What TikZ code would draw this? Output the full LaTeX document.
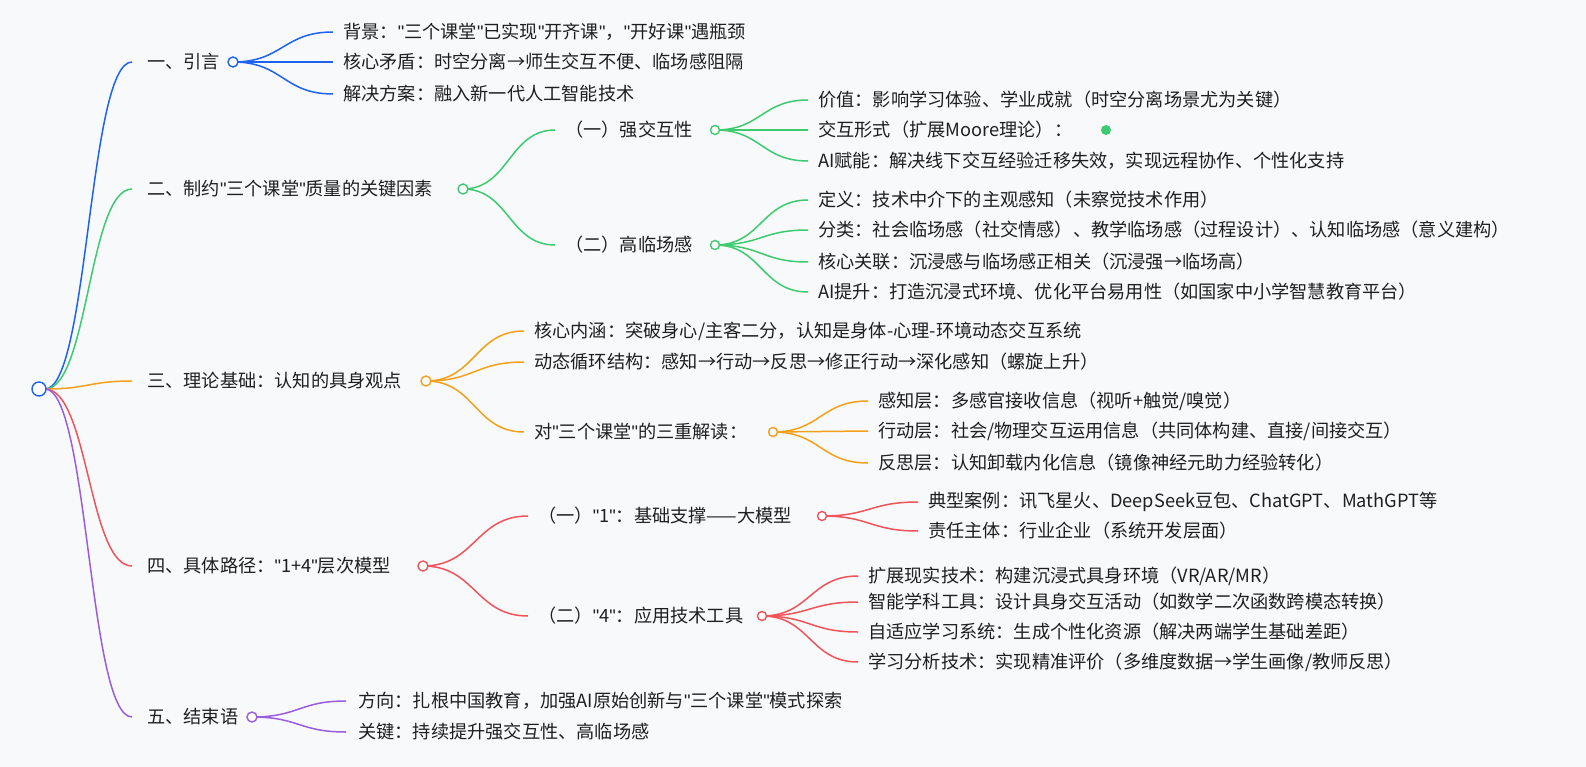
\documentclass[tikz,border=0pt]{standalone}
\usepackage{fontspec}
\setmainfont{Noto Sans CJK SC}
\newfontfamily\latinq{Liberation Sans}
\newcommand{\qq}{{\latinq"}}
\usetikzlibrary{calc}
\definecolor{cb}{HTML}{1E63F0}
\definecolor{cg}{HTML}{3CCB6E}
\definecolor{co}{HTML}{F5A01A}
\definecolor{cr}{HTML}{F0545A}
\definecolor{cp}{HTML}{9B5DE0}
\definecolor{bg}{HTML}{F8F9FB}
\definecolor{tx}{HTML}{1F1F1F}
\tikzset{
  dot/.style={circle,draw=#1,line width=1.4pt,fill=white,inner sep=0pt,minimum size=10pt},
  lbl/.style={anchor=west,inner sep=0pt,text=tx,font=\fontsize{18.2}{20}\selectfont},
  br/.style={draw=#1,line width=1.5pt},
}
\newcommand{\curve}[3]{\draw[br=#3] let \p1=(#1), \p2=(#2) in (\p1) .. controls ({(\x1+\x2)/2},\y1) and ({(\x1+\x2)/2},\y2) .. (\p2);}
\begin{document}
\begin{tikzpicture}[x=1pt,y=-1pt]
\fill[bg] (0,0) rectangle (1586,767);
\useasboundingbox (0,0) rectangle (1586,767);
% level 1
\coordinate (r) at (45,389);
\coordinate (e1) at (132,62);
\coordinate (e2) at (132,189);
\coordinate (e3) at (132,381);
\coordinate (e4) at (132,566);
\coordinate (e5) at (132,717);
\curve{r}{e1}{cb}\curve{r}{e2}{cg}\curve{r}{e3}{co}\curve{r}{e4}{cr}\curve{r}{e5}{cp}
\node[lbl] (t1) at (147,62) {一、引言};
\node[lbl] (t2) at (147,189) {二、制约\qq 三个课堂\qq 质量的关键因素};
\node[lbl] (t3) at (147,381) {三、理论基础：认知的具身观点};
\node[lbl] (t4) at (147,566) {四、具体路径：\qq 1+4\qq 层次模型};
\node[lbl] (t5) at (147,717) {五、结束语};
% branch 1
\coordinate (a1) at (333,32);\coordinate (a2) at (333,62);\coordinate (a3) at (333,94);
\curve{233,62}{a1}{cb}\curve{233,62}{a2}{cb}\curve{233,62}{a3}{cb}
\node[dot=cb] (d1) at (233,62) {};
\node[lbl] at (343,32) {背景：\qq 三个课堂\qq 已实现\qq 开齐课\qq ，\qq 开好课\qq 遇瓶颈};
\node[lbl] at (343,62) {核心矛盾：时空分离→师生交互不便、临场感阻隔};
\node[lbl] at (343,94) {解决方案：融入新一代人工智能技术};
% branch 2
\coordinate (b1) at (555,130);\coordinate (b2) at (555,245);
\curve{463,189}{b1}{cg}\curve{463,189}{b2}{cg}
\node[dot=cg] (d2) at (463,189) {};
\node[lbl] at (565,130) {（一）强交互性};
\node[lbl] at (565,245) {（二）高临场感};
\foreach \yy in {100,130,161} {\curve{715,130}{808,\yy}{cg}}
\foreach \yy in {200,230,262,292} {\curve{715,245}{808,\yy}{cg}}
\node[dot=cg,minimum size=9pt] (d21) at (715,130) {};
\node[dot=cg,minimum size=9pt] (d22) at (715,245) {};
\node[lbl] at (818,100) {价值：影响学习体验、学业成就（时空分离场景尤为关键）};
\node[lbl] (m) at (818,130) {交互形式（扩展Moore理论）：};
\fill[cg] (1106,130) circle (5);
\node[lbl] at (818,161) {AI赋能：解决线下交互经验迁移失效，实现远程协作、个性化支持};
\node[lbl] at (818,200) {定义：技术中介下的主观感知（未察觉技术作用）};
\node[lbl] at (818,230) {分类：社会临场感（社交情感）、教学临场感（过程设计）、认知临场感（意义建构）};
\node[lbl] at (818,262) {核心关联：沉浸感与临场感正相关（沉浸强→临场高）};
\node[lbl] at (818,292) {AI提升：打造沉浸式环境、优化平台易用性（如国家中小学智慧教育平台）};
% branch 3
\foreach \yy in {331,362,432} {\curve{426,381}{524,\yy}{co}}
\node[dot=co] (d3) at (426,381) {};
\node[lbl] at (534,331) {核心内涵：突破身心/主客二分，认知是身体-心理-环境动态交互系统};
\node[lbl] at (534,362) {动态循环结构：感知→行动→反思→修正行动→深化感知（螺旋上升）};
\node[lbl] at (534,432) {对\qq 三个课堂\qq 的三重解读：};
\foreach \yy in {401,431,463} {\curve{773,432}{868,\yy}{co}}
\node[dot=co,minimum size=9pt] (d31) at (773,432) {};
\node[lbl] at (878,401) {感知层：多感官接收信息（视听+触觉/嗅觉）};
\node[lbl] at (878,431) {行动层：社会/物理交互运用信息（共同体构建、直接/间接交互）};
\node[lbl] at (878,463) {反思层：认知卸载内化信息（镜像神经元助力经验转化）};
% branch 4
\curve{423,566}{528,516}{cr}\curve{423,566}{528,616}{cr}
\node[dot=cr] (d4) at (423,566) {};
\node[lbl] at (538,516) {（一）\qq 1\qq ：基础支撑——大模型};
\node[lbl] at (538,616) {（二）\qq 4\qq ：应用技术工具};
\foreach \yy in {502,531} {\curve{822,516}{918,\yy}{cr}}
\foreach \yy in {576,602,632,662} {\curve{762,616}{858,\yy}{cr}}
\node[dot=cr,minimum size=9pt] (d41) at (822,516) {};
\node[dot=cr,minimum size=9pt] (d42) at (762,616) {};
\node[lbl] at (928,502) {典型案例：讯飞星火、DeepSeek豆包、ChatGPT、MathGPT等};
\node[lbl] at (928,531) {责任主体：行业企业（系统开发层面）};
\node[lbl] at (868,576) {扩展现实技术：构建沉浸式具身环境（VR/AR/MR）};
\node[lbl] at (868,602) {智能学科工具：设计具身交互活动（如数学二次函数跨模态转换）};
\node[lbl] at (868,632) {自适应学习系统：生成个性化资源（解决两端学生基础差距）};
\node[lbl] at (868,662) {学习分析技术：实现精准评价（多维度数据→学生画像/教师反思）};
% branch 5
\foreach \yy in {701,732} {\curve{252,717}{346,\yy}{cp}}
\node[dot=cp] (d5) at (252,717) {};
\node[lbl] at (358,701) {方向：扎根中国教育，加强AI原始创新与\qq 三个课堂\qq 模式探索};
\node[lbl] at (358,732) {关键：持续提升强交互性、高临场感};
% root
\node[dot=cb,minimum size=14pt] (root) at (39,389) {};
\end{tikzpicture}
\end{document}
